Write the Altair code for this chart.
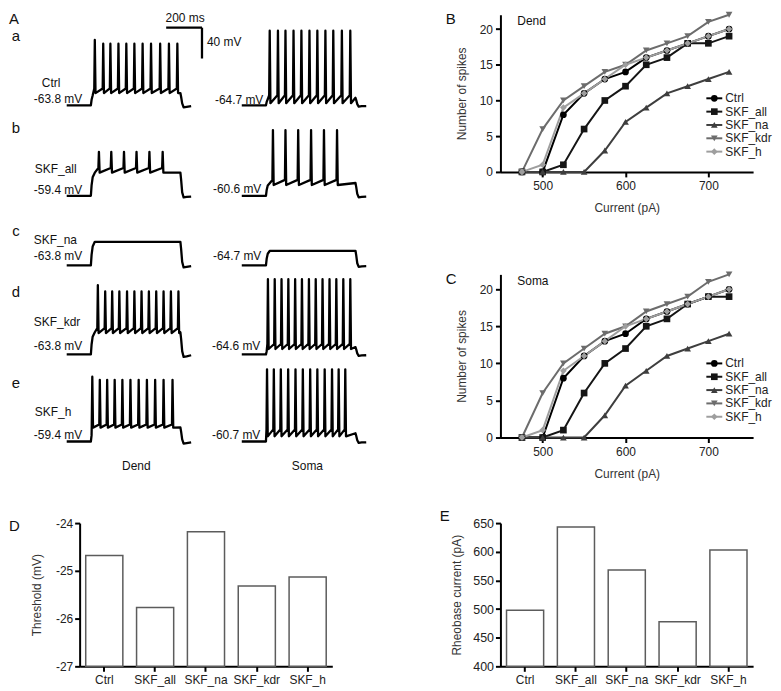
import altair as alt
import pandas as pd

FONT = "Liberation Sans, Arial, sans-serif"

# ---------------- values ----------------
series = ["Ctrl", "SKF_all", "SKF_na", "SKF_kdr", "SKF_h"]
series_colors = ["#000000", "#151515", "#3e3e3e", "#6c6c6c", "#9e9e9e"]
series_shapes = ["circle", "square", "triangle-up", "triangle-down", "diamond"]

currents_pa = [475, 500, 525, 550, 575, 600, 625, 650, 675, 700, 725]

dend_ctrl = [0, 0, 8, 11, 13, 14, 16, 17, 18, 19, 20]
dend_all = [0, 0, 1, 6, 10, 12, 15, 16, 18, 18, 19]
dend_na = [0, 0, 0, 0, 3, 7, 9, 11, 12, 13, 14]
dend_kdr = [0, 6, 10, 12, 14, 15, 17, 18, 19, 21, 22]
dend_h = [0, 1, 9, 11, 13, 15, 16, 17, 18, 19, 20]

soma_ctrl = [0, 0, 8, 11, 13, 14, 16, 17, 18, 19, 20]
soma_all = [0, 0, 1, 6, 10, 12, 15, 16, 18, 19, 19]
soma_na = [0, 0, 0, 0, 3, 7, 9, 11, 12, 13, 14]
soma_kdr = [0, 6, 10, 12, 14, 15, 17, 18, 19, 21, 22]
soma_h = [0, 1, 9, 11, 13, 15, 16, 17, 18, 19, 20]

threshold_mv = [-24.68, -25.77, -24.18, -25.32, -25.13]
rheobase_pa = [498, 643, 568, 478, 603]

# voltage traces (ms from sweep start, mV)
step_on_ms = 135
step_off_ms = 635
sweep_ms = 695

dend_rest_mv = [-63.8, -59.4, -63.8, -63.8, -59.4]
dend_plateau_mv = [-48.0, -29.4, -33.2, -35.0, -41.0]
dend_thresh_mv = [-42.0, -23.4, -33.2, -29.6, -37.4]
dend_trough_mv = [-48.0, -29.4, -33.2, -36.0, -41.4]
dend_first_peak_mv = [21.0, -2.4, -33.2, 26.0, 24.6]
dend_peak_mv = [16.0, -2.4, -33.2, 18.0, 20.6]
dend_undershoot_mv = [-66.4, -61.5, -66.4, -67.0, -62.0]
dend_spike_ms = [
    [157, 204, 244, 289, 333, 378, 424, 471, 522, 571, 618],
    [180, 249, 320, 390, 462, 536],
    [],
    [174, 215, 254, 294, 337, 378, 418, 459, 500, 541, 582, 624],
    [143, 185, 226, 268, 311, 356, 402, 448, 494, 541, 591],
]

soma_rest_mv = [-64.7, -60.6, -64.7, -64.6, -60.7]
soma_plateau_mv = [-55.0, -44.0, -45.7, -55.0, -50.0]
soma_thresh_mv = [-51.7, -40.0, -45.7, -51.0, -45.0]
soma_trough_mv = [-62.0, -46.6, -45.7, -57.5, -54.0]
soma_first_peak_mv = [32.0, 24.6, -45.7, 33.0, 33.0]
soma_peak_mv = [32.0, 24.6, -45.7, 33.0, 33.0]
soma_undershoot_mv = [-66.5, -62.5, -66.5, -66.5, -62.5]
soma_spike_ms = [
    [156, 202, 244, 289, 333, 378, 422, 467, 511, 559, 606],
    [174, 244, 315, 387, 459, 532],
    [],
    [146, 184, 222, 260, 298, 336, 375, 413, 451, 490, 528, 567, 606],
    [141, 179, 218, 259, 300, 341, 382, 422, 463, 504, 541, 578],
]

scale_bar_ms = 200
scale_bar_mv = 40

# ---------------- layout (pixels) ----------------
PX_PER_MS = 36 / 200
PX_PER_MV = 31 / 40
COL1_X = 79
A_W = 353
ROW1_Y, ROW1_H = 11, 241
ROW2_Y, ROW2_H = 272, 230
ROW3_H = 144
FI_W = 254
B_H = 158
C_H = 164
BAR_W = 254

row_base_py = [102, 193, 263, 352.5, 440]
dend_x0_px = 66
soma_x0_px = 242


def trace_points(rest, plat, thr, trough, pk1, pk, under, spikes):
    d = plat - rest
    pts = [(0.0, rest), (step_on_ms, rest)]
    first = spikes[0] if spikes else step_off_ms
    for dt, f in [(4, 0.45), (10, 0.8), (22, 1.0)]:
        if step_on_ms + dt < first - 3:
            pts.append((step_on_ms + dt, rest + f * d))
    for i, s in enumerate(spikes):
        pts += [(s - 3, thr), (s, pk1 if i == 0 else pk), (s + 4, trough)]
    pts.append((step_off_ms, plat))
    pts += [(step_off_ms + 4, rest + 0.7 * d), (step_off_ms + 10, rest + 0.15 * d),
            (step_off_ms + 18, under), (step_off_ms + 35, under + 0.6),
            (sweep_ms, rest - 1.0)]
    return pts


def a_scales(h):
    xs = alt.Scale(domain=[0, A_W / PX_PER_MS], nice=False, zero=False)
    ys = alt.Scale(domain=[-h / PX_PER_MV, 0], nice=False, zero=False)
    return xs, ys


def text_layer(items, top, xs, ys, size, align="left", color="#111"):
    df = pd.DataFrame([{"label": s, "T": (px - COL1_X) / PX_PER_MS,
                        "V": -(py - top) / PX_PER_MV} for s, px, py in items])
    return alt.Chart(df).mark_text(fontSize=size, align=align, baseline="middle",
                                   font=FONT, color=color).encode(
        x=alt.X("T:Q", scale=xs, axis=None),
        y=alt.Y("V:Q", scale=ys, axis=None),
        text="label:N")


def a_panel(rows_idx, top, h, texts):
    xs, ys = a_scales(h)
    recs = []
    for r in rows_idx:
        sites = [
            ("d", dend_x0_px, dend_rest_mv[r], dend_plateau_mv[r], dend_thresh_mv[r],
             dend_trough_mv[r], dend_first_peak_mv[r], dend_peak_mv[r],
             dend_undershoot_mv[r], dend_spike_ms[r]),
            ("s", soma_x0_px, soma_rest_mv[r], soma_plateau_mv[r], soma_thresh_mv[r],
             soma_trough_mv[r], soma_first_peak_mv[r], soma_peak_mv[r],
             soma_undershoot_mv[r], soma_spike_ms[r]),
        ]
        for site, x0, rest, plat, thr, tr, p1, p, un, sp in sites:
            pts = trace_points(rest, plat, thr, tr, p1, p, un, sp)
            for k, (t, v) in enumerate(pts):
                recs.append({"trace": f"{site}{r}", "k": k,
                             "T": t + (x0 - COL1_X) / PX_PER_MS,
                             "V": (v - rest) - (row_base_py[r] - top) / PX_PER_MV})
    df = pd.DataFrame(recs)
    traces = alt.Chart(df).mark_line(color="black", strokeWidth=2.3,
                                     strokeJoin="round").encode(
        x=alt.X("T:Q", scale=xs, axis=None),
        y=alt.Y("V:Q", scale=ys, axis=None),
        detail="trace:N", order="k:Q")
    layers = [traces]
    for items, size, align in texts:
        layers.append(text_layer(items, top, xs, ys, size, align))
    return alt.layer(*layers).properties(width=A_W, height=h)


# scale bar (drawn in ms / mV through the panel scales)
xs_top, ys_top = a_scales(ROW1_H)
bar_x0 = (166 - COL1_X) / PX_PER_MS
bar_y0 = -(24 - ROW1_Y) / PX_PER_MV
sb = pd.DataFrame({"x0": [bar_x0], "x1": [bar_x0 + scale_bar_ms],
                   "y0": [bar_y0], "y1": [bar_y0 - scale_bar_mv]})
sb_h = alt.Chart(sb).mark_rule(color="black", strokeWidth=2.3).encode(
    x=alt.X("x0:Q", scale=xs_top, axis=None), x2="x1:Q",
    y=alt.Y("y0:Q", scale=ys_top, axis=None))
sb_v = alt.Chart(sb).mark_rule(color="black", strokeWidth=2.3).encode(
    x=alt.X("x1:Q", scale=xs_top, axis=None),
    y=alt.Y("y0:Q", scale=ys_top, axis=None), y2="y1:Q")

top_texts = [
    ([("A", 8, 15)], 15, "left"),
    ([("a", 15, 32), ("b", 15, 125)], 15, "center"),
    ([("Ctrl", 41, 80), ("-63.8 mV", 33, 96), ("SKF_all", 34, 166),
      ("-59.4 mV", 33, 187), ("-64.7 mV", 215, 97), ("-60.6 mV", 213, 186),
      ("40 mV", 207, 38)], 12, "left"),
    ([("200 ms", 185, 14)], 12, "center"),
]
A_top = alt.layer(a_panel([0, 1], ROW1_Y, ROW1_H, top_texts), sb_h, sb_v)

bottom_texts = [
    ([("c", 15, 228), ("d", 15, 290), ("e", 15, 381)], 15, "center"),
    ([("SKF_na", 33, 237), ("-63.8 mV", 33, 254), ("SKF_kdr", 33, 320),
      ("-63.8 mV", 33, 344), ("SKF_h", 34, 410), ("-59.4 mV", 33, 433),
      ("-64.7 mV", 213, 254), ("-64.6 mV", 212, 344), ("-60.7 mV", 212, 433)],
     12, "left"),
    ([("Dend", 136, 465), ("Soma", 308, 465)], 12, "center"),
]
A_bottom = a_panel([2, 3, 4], ROW2_Y, ROW2_H, bottom_texts)


def single_text(txt, px, py, size, align="left"):
    return alt.Chart(pd.DataFrame({"t": [txt]})).mark_text(
        fontSize=size, align=align, baseline="middle", font=FONT, color="#111").encode(
        x=alt.value(px), y=alt.value(py), text="t:N")


def fi_panel(count_lists, h, letter, site, legend_top, letter_y, site_y):
    recs = []
    for name, vals in zip(series, count_lists):
        for c, v in zip(currents_pa, vals):
            recs.append({"series": name, "current": c, "spikes": v})
    df = pd.DataFrame(recs)
    dom_x = [449, 754]
    dom_y = [0, 22]
    xs = alt.Scale(domain=dom_x, nice=False, zero=False)
    ys = alt.Scale(domain=dom_y, nice=False)
    x_axis = alt.Axis(values=[500, 600, 700], title="Current (pA)",
                      labelPadding=4, titlePadding=11, labelOverlap=False)
    y_axis = alt.Axis(values=[0, 5, 10, 15, 20], title="Number of spikes",
                      labelPadding=3, titlePadding=11, labelOverlap=False)
    color = alt.Color("series:N", scale=alt.Scale(domain=series, range=series_colors),
                      legend=None)
    shape = alt.Shape("series:N", scale=alt.Scale(domain=series, range=series_shapes),
                      legend=None)
    x = alt.X("current:Q", scale=xs, axis=x_axis)
    y = alt.Y("spikes:Q", scale=ys, axis=y_axis)
    lines = alt.Chart(df).mark_line(strokeWidth=2).encode(x=x, y=y, color=color,
                                                          detail="series:N")
    pts = alt.Chart(df).mark_point(filled=True, opacity=1, size=45).encode(
        x=x, y=y, color=color, shape=shape)

    def cx(px):
        return dom_x[0] + px / FI_W * (dom_x[1] - dom_x[0])

    def cy(py):
        return dom_y[1] * (1 - py / h)

    leg = pd.DataFrame({"series": series,
                        "ly": [cy(legend_top + 13.4 * i) for i in range(len(series))],
                        "lx0": cx(207), "lx1": cx(223), "lxs": cx(215), "lxt": cx(226)})
    ly = alt.Y("ly:Q", scale=ys, axis=y_axis)
    leg_line = alt.Chart(leg).mark_rule(strokeWidth=2).encode(
        x=alt.X("lx0:Q", scale=xs, axis=x_axis), x2="lx1:Q", y=ly, color=color)
    leg_pt = alt.Chart(leg).mark_point(filled=True, opacity=1, size=45).encode(
        x=alt.X("lxs:Q", scale=xs, axis=x_axis), y=ly, color=color, shape=shape)
    leg_txt = alt.Chart(leg).mark_text(align="left", baseline="middle", fontSize=12,
                                       font=FONT, color="#222").encode(
        x=alt.X("lxt:Q", scale=xs, axis=x_axis), y=ly, text="series:N")
    return alt.layer(lines, pts, leg_line, leg_pt, leg_txt,
                     single_text(letter, -55, letter_y, 15),
                     single_text(site, 17, site_y, 12)).properties(width=FI_W, height=h)


B = fi_panel([dend_ctrl, dend_all, dend_na, dend_kdr, dend_h], B_H, "B", "Dend",
             84, 4, 6)
C = fi_panel([soma_ctrl, soma_all, soma_na, soma_kdr, soma_h], C_H, "C", "Soma",
             89.5, 5, 7)


def bar_panel(values, domain, ticks, title, letter, lx, ly, title_pad, label_expr,
              label_size):
    df = pd.DataFrame({"group": series, "value": values})
    if label_expr:
        yaxis = alt.Axis(values=ticks, title=title, titlePadding=title_pad,
                         labelPadding=2, labelExpr=label_expr, labelFontSize=label_size,
                         labelOverlap=False)
    else:
        yaxis = alt.Axis(values=ticks, title=title, titlePadding=title_pad,
                         labelPadding=2, labelFontSize=label_size, labelOverlap=False)
    bars = alt.Chart(df).mark_bar(fill="white", stroke="#5c5c5c", strokeWidth=1.5).encode(
        x=alt.X("group:N", sort=series,
                scale=alt.Scale(paddingInner=0.27, paddingOuter=0.12),
                axis=alt.Axis(title=None, labelAngle=0, labelPadding=3,
                              labelOverlap=False)),
        y=alt.Y("value:Q", scale=alt.Scale(domain=domain, nice=False, zero=False),
                axis=yaxis),
        y2=alt.datum(domain[0]))
    return alt.layer(bars, single_text(letter, lx, ly, 15)).properties(
        width=BAR_W, height=ROW3_H)


D = bar_panel(threshold_mv, [-27, -24], [-24, -25, -26, -27], "Threshold (mV)",
              "D", -71, 3, 12, "toString(datum.value)", 12)
E = bar_panel(rheobase_pa, [400, 650], [400, 450, 500, 550, 600, 650],
              "Rheobase current (pA)", "E", -61, -7, 9, None, 12.5)

chart = alt.concat(A_top, B, A_bottom, C, D, E, columns=2,
                   spacing={"row": 20, "column": 70}, bounds="flush",
                   align="each").properties(padding=0, background="white")

chart = chart.configure_view(stroke="transparent").configure_axis(
    domainColor="black", domainWidth=2, tickColor="black", tickWidth=2, tickSize=5,
    labelFont=FONT, labelFontSize=12, labelColor="#222", titleFont=FONT,
    titleFontSize=12, titleFontWeight="normal", titleColor="#333", grid=False
).configure_text(font=FONT)

chart.save("out.html", embed_options={"renderer": "svg", "actions": False})
